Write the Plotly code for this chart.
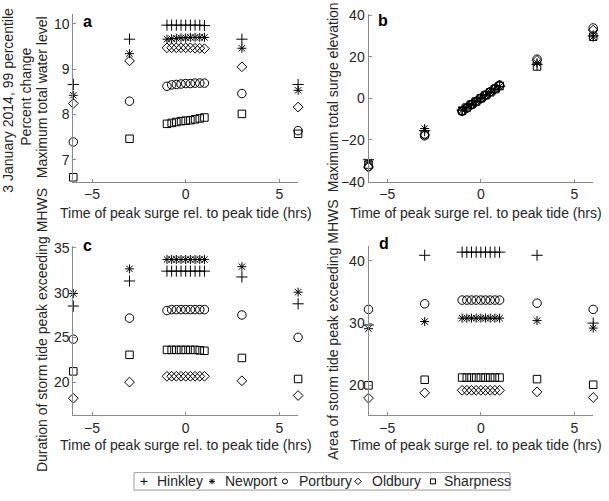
import plotly.graph_objects as go

# ---------------- data ----------------
hours = [-6, -3, -1, -0.75, -0.5, -0.25, 0, 0.25, 0.5, 0.75, 1, 3, 6]
sites = ["Hinkley", "Newport", "Portbury", "Oldbury", "Sharpness"]

# a: Maximum total water level
water_hinkley = [8.66, 9.66, 9.97, 9.97, 9.97, 9.97, 9.97, 9.97, 9.97, 9.97, 9.96, 9.66, 8.66]
water_newport = [8.42, 9.34, 9.66, 9.67, 9.68, 9.69, 9.69, 9.70, 9.70, 9.70, 9.70, 9.46, 8.53]
water_portbury = [7.39, 8.29, 8.62, 8.65, 8.66, 8.67, 8.68, 8.68, 8.69, 8.69, 8.69, 8.46, 7.64]
water_oldbury = [8.24, 9.18, 9.47, 9.47, 9.47, 9.47, 9.47, 9.47, 9.46, 9.46, 9.45, 9.05, 8.16]
water_sharpness = [6.61, 7.46, 7.79, 7.81, 7.83, 7.85, 7.86, 7.87, 7.89, 7.91, 7.93, 8.01, 7.57]

# b: Maximum total surge elevation
surge_hinkley = [-29.5, -15.5, -5.6, -4.2, -2.8, -1.4, 0.0, 1.4, 2.8, 4.2, 5.6, 16.3, 30.0]
surge_newport = [-30.5, -14.5, -5.7, -4.3, -2.9, -1.4, 0.0, 1.4, 2.9, 4.3, 5.7, 17.0, 29.5]
surge_portbury = [-32.8, -18.0, -6.3, -4.7, -3.1, -1.6, 0.0, 1.6, 3.2, 4.8, 6.4, 18.8, 33.8]
surge_oldbury = [-33.0, -17.5, -6.1, -4.6, -3.0, -1.5, 0.0, 1.5, 3.1, 4.6, 6.2, 18.2, 32.8]
surge_sharpness = [-31.8, -17.3, -5.9, -4.4, -2.9, -1.5, 0.0, 1.5, 2.9, 4.4, 5.9, 15.3, 29.6]

# c: Duration of storm tide peak exceeding MHWS
dur_hinkley = [28.5, 31.3, 32.4, 32.4, 32.4, 32.4, 32.4, 32.4, 32.4, 32.4, 32.4, 31.75, 28.75]
dur_newport = [29.9, 32.65, 33.7, 33.7, 33.7, 33.7, 33.7, 33.7, 33.7, 33.7, 33.7, 32.9, 30.05]
dur_portbury = [24.8, 27.15, 28.0, 28.1, 28.1, 28.1, 28.1, 28.1, 28.1, 28.1, 28.1, 27.5, 25.0]
dur_oldbury = [18.2, 20.0, 20.65, 20.65, 20.65, 20.65, 20.65, 20.65, 20.65, 20.65, 20.65, 20.15, 18.5]
dur_sharpness = [21.2, 23.05, 23.6, 23.6, 23.6, 23.6, 23.6, 23.6, 23.6, 23.55, 23.5, 22.7, 20.35]

# d: Area of storm tide peak exceeding MHWS
area_hinkley = [29.7, 40.9, 41.4, 41.4, 41.4, 41.4, 41.4, 41.4, 41.4, 41.4, 41.4, 40.9, 30.0]
area_newport = [29.1, 30.25, 30.8, 30.8, 30.8, 30.8, 30.8, 30.8, 30.8, 30.8, 30.8, 30.4, 29.2]
area_portbury = [32.2, 33.1, 33.7, 33.7, 33.7, 33.7, 33.7, 33.7, 33.7, 33.7, 33.7, 33.2, 32.2]
area_oldbury = [17.95, 18.8, 19.2, 19.2, 19.2, 19.2, 19.2, 19.2, 19.2, 19.2, 19.2, 18.95, 18.05]
area_sharpness = [20.0, 20.9, 21.25, 21.25, 21.25, 21.25, 21.25, 21.25, 21.25, 21.25, 21.25, 21.0, 20.1]

x_ticks = [-5, 0, 5]
a_ticks = [7, 8, 9, 10]
b_ticks = [-40, -20, 0, 20, 40]
c_ticks = [20, 25, 30, 35]
d_ticks = [20, 30, 40]

# ---------------- styling ----------------
W, H = 609, 501
FONT = "Liberation Sans, Arial, sans-serif"
TXT = "#262626"
AXC = "#8a8a8a"
FS = 14

symbols = {"Hinkley": "cross-thin-open", "Newport": "asterisk-open",
           "Portbury": "circle-open", "Oldbury": "diamond-open",
           "Sharpness": "square-open"}
sizes = {"Hinkley": 8, "Newport": 7.5, "Portbury": 8.5, "Oldbury": 7.5,
         "Sharpness": 7.5}

panels = [
    ("x", "y", [water_hinkley, water_newport, water_portbury, water_oldbury, water_sharpness]),
    ("x2", "y2", [surge_hinkley, surge_newport, surge_portbury, surge_oldbury, surge_sharpness]),
    ("x3", "y3", [dur_hinkley, dur_newport, dur_portbury, dur_oldbury, dur_sharpness]),
    ("x4", "y4", [area_hinkley, area_newport, area_portbury, area_oldbury, area_sharpness]),
]

fig = go.Figure()
for xa, ya, series in panels:
    for name, vals in zip(sites, series):
        fig.add_trace(go.Scatter(
            x=hours, y=vals, mode="markers", name=name, showlegend=False,
            xaxis=xa, yaxis=ya, cliponaxis=False,
            marker=dict(symbol=symbols[name], size=sizes[name], color="black",
                        line=dict(color="black", width=1)),
        ))

def px_x(p):
    return p / W

def px_y(p):
    return 1 - p / H

xdom_left = [px_x(73.3), px_x(298.1)]
xdom_right = [px_x(368.5), px_x(593.2)]
ydom_top = [px_y(180), px_y(7)]
ydom_bot = [px_y(421), px_y(246)]

def xaxis(dom, anchor):
    return dict(domain=dom, anchor=anchor, range=[-6, 6], tickvals=x_ticks,
                showline=True, linecolor=AXC, linewidth=1, ticks="inside",
                ticklen=3, tickcolor=AXC, showgrid=False, zeroline=False,
                tickfont=dict(family=FONT, size=FS, color=TXT))

def yaxis(dom, anchor, rng, tv):
    return dict(domain=dom, anchor=anchor, range=rng, tickvals=tv,
                showline=True, linecolor=AXC, linewidth=1, ticks="inside",
                ticklen=3, tickcolor=AXC, showgrid=False, zeroline=False,
                tickfont=dict(family=FONT, size=FS, color=TXT))

fig.update_layout(
    width=W, height=H, margin=dict(l=0, r=0, t=0, b=0),
    paper_bgcolor="white", plot_bgcolor="rgba(0,0,0,0)",
    font=dict(family=FONT, size=FS, color=TXT),
    showlegend=False,
    xaxis=xaxis(xdom_left, "y"),
    yaxis=yaxis(ydom_top, "x", [6.514, 10.221], a_ticks),
    xaxis2=xaxis(xdom_right, "y2"),
    yaxis2=yaxis(ydom_top, "x2", [-40, 40.6], b_ticks),
    xaxis3=xaxis(xdom_left, "y3"),
    yaxis3=yaxis(ydom_bot, "x3", [16.28, 35.25], c_ticks),
    xaxis4=xaxis(xdom_right, "y4"),
    yaxis4=yaxis(ydom_bot, "x4", [15.17, 42.45], d_ticks),
    xaxis5=dict(domain=[0, 1], anchor="y5", range=[0, W], visible=False, fixedrange=True),
    yaxis5=dict(domain=[0, 1], anchor="x5", range=[H, 0], visible=False, fixedrange=True),
)

# ---------------- annotations (labels) ----------------
ann = []
def label(text, x, y, angle=0, size=FS, bold=False, xanchor="center"):
    ann.append(dict(text=("<b>%s</b>" % text) if bold else text,
                    x=px_x(x), y=px_y(y), xref="paper", yref="paper",
                    showarrow=False, textangle=angle, xanchor=xanchor,
                    yanchor="middle",
                    font=dict(family=FONT, size=size, color=TXT if not bold else "black")))

xlab = "Time of peak surge rel. to peak tide (hrs)"
label(xlab, 185.5, 212)
label(xlab, 476, 212)
label(xlab, 185.5, 452)
label(xlab, 476, 452)

label("3 January 2014, 99 percentile", 8.5, 96, angle=-90)
label("Percent change", 26.5, 93, angle=-90)
label("Maximum total water level", 42, 93, angle=-90)
label("Maximum total surge elevation", 333, 93, angle=-90)
label("Duration of storm tide peak exceeding MHWS", 42, 333, angle=-90)
label("Area of storm tide peak exceeding MHWS", 333, 333, angle=-90)

label("a", 87.5, 15, size=16, bold=True)
label("b", 383, 14, size=16, bold=True)
label("c", 87.5, 246, size=16, bold=True)
label("d", 384, 244, size=16, bold=True)

# ---------------- custom legend ----------------
legend_left, legend_right, legend_top, legend_bottom = 134, 510, 480, 498
legend_mid = (legend_top + legend_bottom) / 2
legend_key_x = [144, 212, 285, 358, 433]
legend_text_x = [155, 223, 297, 370, 442]

fig.add_shape(type="rect", xref="paper", yref="paper",
              x0=px_x(legend_left), x1=px_x(legend_right),
              y0=px_y(legend_bottom), y1=px_y(legend_top),
              line=dict(color="#9a9a9a", width=1), fillcolor="rgba(0,0,0,0)")

for name, kx, tx in zip(sites, legend_key_x, legend_text_x):
    fig.add_trace(go.Scatter(
        x=[kx], y=[legend_mid], mode="markers", xaxis="x5", yaxis="y5",
        showlegend=False, hoverinfo="skip", cliponaxis=False,
        marker=dict(symbol=symbols[name], size=5, color="black",
                    line=dict(color="black", width=1)),
    ))
    label(name, tx, legend_mid, xanchor="left")

fig.update_layout(annotations=ann)
fig.write_html("out.html", config={"displayModeBar": False},
               post_script="document.body.style.margin='0';document.body.style.overflow='hidden';")
